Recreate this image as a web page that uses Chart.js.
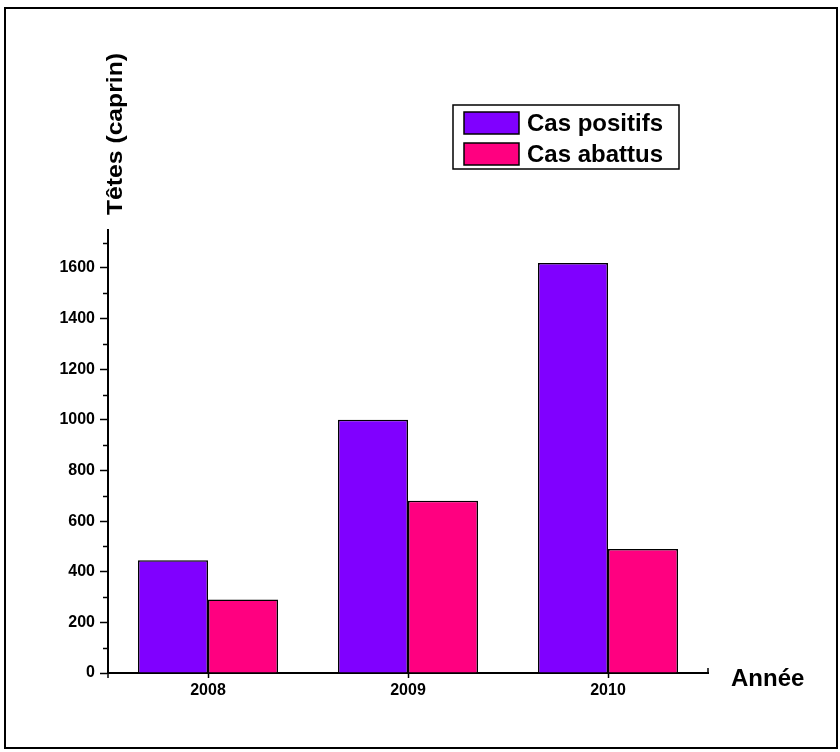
<!DOCTYPE html>
<html>
<head>
<meta charset="utf-8">
<title>Têtes (caprin)</title>
<script src="https://cdn.jsdelivr.net/npm/chart.js@4.4.1/dist/chart.umd.min.js"></script>
<style>
  html, body { margin: 0; padding: 0; background: #fff; }
  #wrap { width: 840px; height: 752px; }
</style>
</head>
<body>
<div id="wrap"><canvas id="barChart" width="840" height="752"></canvas></div>
<script>
var annees = ['2008', '2009', '2010'];
var casPositifs = [445, 1000, 1620];
var casAbattus = [290, 680, 490];
var yMin = 0, yMax = 1750, yPas = 100;

var POLICE = '"Liberation Sans", Arial, sans-serif';

// cadre, titres des axes, légende et petites graduations
var habillage = {
  id: 'habillage',
  afterDraw: function(chart) {
    var ctx = chart.ctx;
    var y = chart.scales.y, x = chart.scales.x;
    ctx.save();

    // cadre extérieur
    ctx.strokeStyle = '#000';
    ctx.lineWidth = 2;
    ctx.strokeRect(5, 8, 832, 740);

    // graduations mineures (valeurs impaires en centaines)
    ctx.lineWidth = 1.5;
    for (var v = yPas; v < yMax; v += 200) {
      var py = Math.round(y.getPixelForValue(v)) + 0.5;
      ctx.beginPath();
      ctx.moveTo(y.right - 5, py);
      ctx.lineTo(y.right, py);
      ctx.stroke();
    }
    // petits bouts d'axe aux extrémités
    ctx.beginPath();
    ctx.moveTo(x.left, x.top);
    ctx.lineTo(x.left, x.top + 5);
    ctx.moveTo(x.right, x.top);
    ctx.lineTo(x.right, x.top - 5);
    ctx.stroke();

    // titre de l'axe Y, au-dessus de l'axe
    ctx.fillStyle = '#000';
    ctx.font = 'bold 22px ' + POLICE;
    var titreY = 'Têtes (caprin)';
    var w = ctx.measureText(titreY).width;
    ctx.translate(116, 134);
    ctx.rotate(-Math.PI / 2);
    ctx.scale(162 / w, 1);
    ctx.textAlign = 'center';
    ctx.textBaseline = 'middle';
    ctx.fillText(titreY, 0, 0);
    ctx.setTransform(1, 0, 0, 1, 0, 0);

    // titre de l'axe X
    ctx.font = 'bold 24px ' + POLICE;
    ctx.textAlign = 'left';
    ctx.textBaseline = 'middle';
    ctx.fillText('Année', 731, 679);

    // légende
    ctx.strokeStyle = '#000';
    ctx.lineWidth = 1.5;
    ctx.strokeRect(453, 105, 226, 64);
    ctx.font = 'bold 24px ' + POLICE;
    chart.data.datasets.forEach(function(ds, i) {
      var top = 112 + i * 31;
      ctx.fillStyle = ds.backgroundColor;
      ctx.fillRect(464, top, 55, 22);
      ctx.strokeRect(464, top, 55, 22);
      ctx.fillStyle = '#000';
      ctx.fillText(ds.label, 527, top + 12);
    });

    ctx.restore();
  }
};

var ctx = document.getElementById('barChart');

var myChart = new Chart(ctx, {
  type: 'bar',
  data: {
    labels: annees,
    datasets: [{
      label: 'Cas positifs',
      data: casPositifs,
      backgroundColor: '#8000FF',
      borderColor: '#000',
      borderWidth: 1.5,
      categoryPercentage: 0.7,
      barPercentage: 1.0
    }, {
      label: 'Cas abattus',
      data: casAbattus,
      backgroundColor: '#FF0080',
      borderColor: '#000',
      borderWidth: 1.5,
      categoryPercentage: 0.7,
      barPercentage: 1.0
    }]
  },
  options: {
    responsive: false,
    animation: false,
    layout: { padding: { top: 230, right: 132, left: 0, bottom: 0 } },
    plugins: {
      legend: { display: false },
      tooltip: { enabled: false }
    },
    scales: {
      x: {
        afterFit: function(scale) { scale.height = 79; },
        grid: {
          offset: false,
          drawOnChartArea: false,
          tickLength: 5,
          tickColor: '#000',
          tickWidth: 1.5
        },
        border: { color: '#000', width: 2 },
        ticks: {
          color: '#000',
          padding: 3,
          font: { family: POLICE, size: 16, weight: 'bold' }
        }
      },
      y: {
        min: yMin,
        max: yMax,
        afterFit: function(scale) { scale.width = 108; },
        grid: {
          drawOnChartArea: false,
          tickLength: 8,
          tickWidth: 1.5,
          tickColor: function(c) {
            return (c.tick && c.tick.value % 200 === 0) ? '#000' : 'rgba(0,0,0,0)';
          }
        },
        border: { color: '#000', width: 2 },
        ticks: {
          stepSize: yPas,
          color: '#000',
          padding: 5,
          font: { family: POLICE, size: 16, weight: 'bold' },
          callback: function(value) {
            return value % 200 === 0 ? value : '';
          }
        }
      }
    }
  },
  plugins: [habillage]
});
</script>
</body>
</html>
